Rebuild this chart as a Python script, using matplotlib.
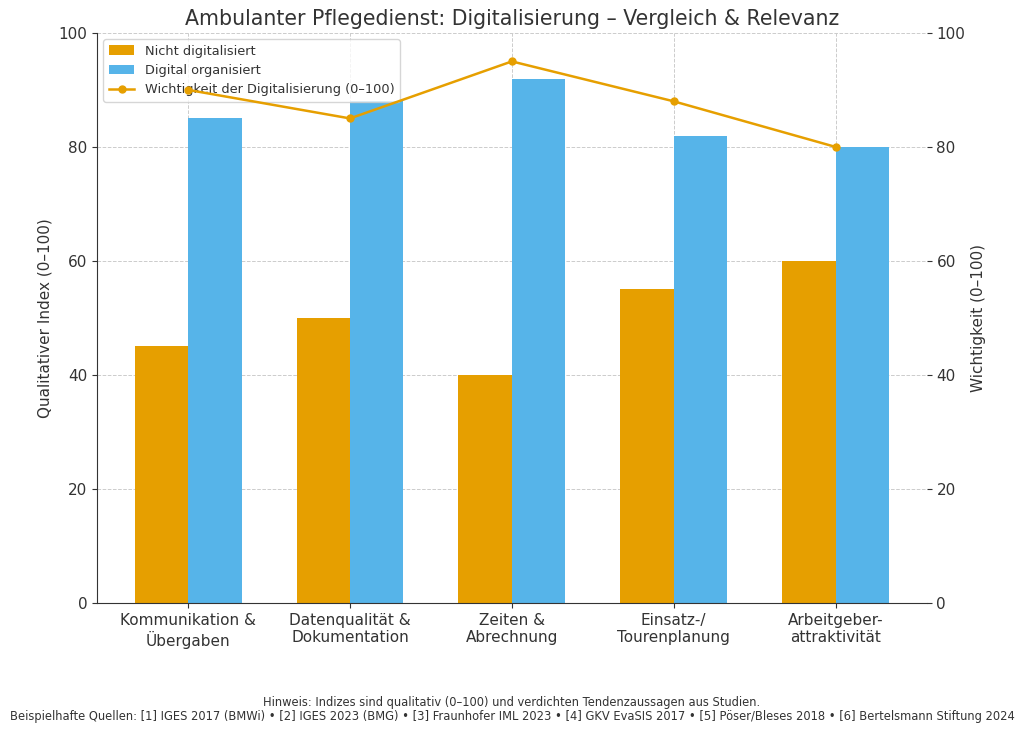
import numpy as np
import matplotlib
matplotlib.use("Agg")
import matplotlib.pyplot as plt

# ---------- Daten ----------
kategorien = ["Kommunikation &\nÜbergaben", "Datenqualität &\nDokumentation",
              "Zeiten &\nAbrechnung", "Einsatz-/\nTourenplanung", "Arbeitgeber-\nattraktivität"]
nicht_digital = [45, 50, 40, 55, 60]
digital = [85, 88, 92, 82, 80]
wichtigkeit = [90, 85, 95, 88, 80]

orange = "#E69F00"
blau = "#56B4E9"
grau = "#333333"

plt.rcParams["text.color"] = grau
plt.rcParams["axes.labelcolor"] = grau
plt.rcParams["xtick.color"] = grau
plt.rcParams["ytick.color"] = grau
plt.rcParams["axes.edgecolor"] = grau

fig, ax = plt.subplots(figsize=(10.24, 7.31), dpi=100)
fig.subplots_adjust(left=0.0947, right=0.905, top=0.955, bottom=0.175)

x = np.arange(len(kategorien))
w = 0.33
b1 = ax.bar(x - w / 2, nicht_digital, w, color=orange, label="Nicht digitalisiert")
b2 = ax.bar(x + w / 2, digital, w, color=blau, label="Digital organisiert")
ax.set_ylim(0, 100)
ax.set_ylabel("Qualitativer Index (0–100)", fontsize=11)
ax.set_xticks(x)
ax.set_xticklabels(kategorien, fontsize=11)
ax.tick_params(axis="y", labelsize=11)
ax.grid(True, linestyle="--", color="#cccccc", linewidth=0.7)
ax.set_axisbelow(True)
ax.spines["top"].set_visible(False)
ax.spines["right"].set_visible(False)

ax2 = ax.twinx()
l1, = ax2.plot(x, wichtigkeit, color=orange, marker="o", markersize=5, linewidth=1.8,
               label="Wichtigkeit der Digitalisierung (0–100)")
ax2.set_ylim(0, 100)
ax2.set_ylabel("Wichtigkeit (0–100)", fontsize=11)
ax2.tick_params(axis="y", labelsize=11)
for s in ["top", "right", "left", "bottom"]:
    ax2.spines[s].set_visible(False)

ax.legend([b1, b2, l1], [b1.get_label(), b2.get_label(), l1.get_label()],
          loc="upper left", fontsize=9.3)

ax.set_title("Ambulanter Pflegedienst: Digitalisierung – Vergleich & Relevanz", fontsize=14.8)

fig.text(0.5, 0.0345, "Hinweis: Indizes sind qualitativ (0–100) und verdichten Tendenzaussagen aus Studien.",
         ha="center", fontsize=8.3)
fig.text(0.5, 0.0145, "Beispielhafte Quellen: [1] IGES 2017 (BMWi) • [2] IGES 2023 (BMG) • [3] Fraunhofer IML 2023 • "
         "[4] GKV EvaSIS 2017 • [5] Pöser/Bleses 2018 • [6] Bertelsmann Stiftung 2024",
         ha="center", fontsize=8.3)

plt.savefig("out.png", dpi=100)
